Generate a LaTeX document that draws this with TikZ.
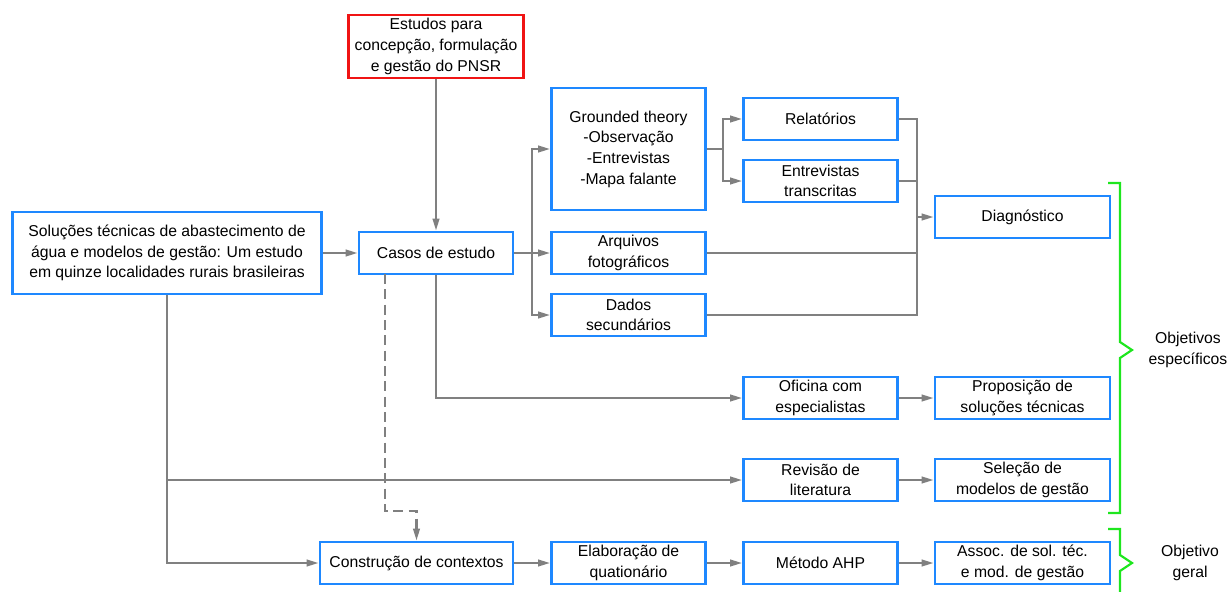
\documentclass[tikz,border=0pt]{standalone}
\usepackage{fontspec}
\setmainfont{Liberation Sans}
\usetikzlibrary{arrows.meta}
\definecolor{boxblue}{RGB}{30,136,255}
\definecolor{boxred}{RGB}{240,20,20}
\definecolor{linegray}{RGB}{128,128,128}
\definecolor{bracegreen}{RGB}{30,230,30}
\begin{document}
\begin{tikzpicture}[x=0.75pt,y=-0.75pt,
  bx/.style={draw=boxblue,line width=2.2pt,fill=white,inner sep=0pt,align=center,
    font=\fontsize{11.8}{15.5}\selectfont,minimum height=31.5pt},
  wA/.style={minimum width=115.5pt},
  wB/.style={minimum width=131.25pt},
  conn/.style={draw=linegray,line width=1.6pt},
  arr/.style={conn,-{Triangle[length=9pt,width=5pt]}},
  brace/.style={draw=bracegreen,line width=1.6pt},
  lbl/.style={align=center,font=\fontsize{11.8}{15.5}\selectfont}]
\useasboundingbox (0,0) rectangle (1232,592);

% boxes
\node[bx,draw=boxred,minimum width=131.25pt,minimum height=47.25pt] (pnsr) at (436,46.5)
  {Estudos para\\concepção, formulação\\e gestão do PNSR};
\node[bx,minimum width=231.75pt,minimum height=61.5pt] (main) at (167,253)
  {Soluções técnicas de abastecimento de\\água e modelos de gestão: Um estudo\\em quinze localidades rurais brasileiras};
\node[bx,wA] (casos) at (436,253) {Casos de estudo};
\node[bx,wA,minimum height=91.5pt] (gt) at (628.5,149)
  {Grounded theory\\-Observação\\-Entrevistas\\-Mapa falante};
\node[bx,wA] (arq) at (628.5,253) {Arquivos\\fotográficos};
\node[bx,wA] (dados) at (628.5,315) {Dados\\secundários};
\node[bx,wA] (rel) at (820.5,119) {Relatórios};
\node[bx,wA] (ent) at (820.5,181) {Entrevistas\\transcritas};
\node[bx,wB] (diag) at (1022.5,217) {Diagnóstico};
\node[bx,wA] (ofi) at (820.5,398) {Oficina com\\especialistas};
\node[bx,wB] (prop) at (1022.5,398) {Proposição de\\soluções técnicas};
\node[bx,wA] (rev) at (820.5,480) {Revisão de\\literatura};
\node[bx,wB] (sel) at (1022.5,480) {Seleção de\\modelos de gestão};
\node[bx,minimum width=144.75pt] (cons) at (416.5,563) {Construção de contextos};
\node[bx,wA] (elab) at (628.5,563) {Elaboração de\\quationário};
\node[bx,wA] (ahp) at (820.5,563) {Método AHP};
\node[bx,wB] (assoc) at (1022.5,563) {Assoc. de sol. téc.\\e mod. de gestão};

% junction points
\coordinate (j1) at (532,253);
\coordinate (j2) at (723,149);
\coordinate (j3) at (917,217);
\coordinate (d0) at (385,274);

% connectors
\draw[arr] (pnsr.south) -- (casos.north);
\draw[arr] (main.east |- casos.west) -- (casos.west);
\draw[arr] (casos.east) -- (arq.west);
\draw[arr] (j1) |- (gt.west);
\draw[arr] (j1) |- (dados.west);
\draw[conn] (gt.east) -- (j2);
\draw[arr] (j2) |- (rel.west);
\draw[arr] (j2) |- (ent.west);
\draw[conn] (rel.east) -| (j3);
\draw[conn] (dados.east) -| (j3);
\draw[conn] (ent.east) -- (ent.east -| j3);
\draw[conn] (arq.east) -- (arq.east -| j3);
\draw[arr] (j3) -- (diag.west);
\draw[arr] (casos.south) |- (ofi.west);
\draw[arr] (main.south) |- (cons.west);
\draw[arr] (main.south |- rev.west) -- (rev.west);
\draw[arr,dash pattern=on 7.5pt off 4pt] (d0) -- ++(0,237) -| (cons.north);
\draw[arr] (ofi) -- (prop);
\draw[arr] (rev) -- (sel);
\draw[arr] (cons) -- (elab);
\draw[arr] (elab) -- (ahp);
\draw[arr] (ahp) -- (assoc);

% objective braces
\draw[brace] (1108,183) -- (1120,183) -- (1120,342) -- (1132,350) -- (1120,358) -- (1120,513) -- (1108,513);
\draw[brace] (1108,529) -- (1120,529) -- (1120,555) -- (1132,563) -- (1120,571) -- (1120,595);
\node[lbl] (oe) at (1188,350) {Objetivos\\específicos};
\node[lbl] (og) at (1190,563) {Objetivo\\geral};
\end{tikzpicture}
\end{document}
